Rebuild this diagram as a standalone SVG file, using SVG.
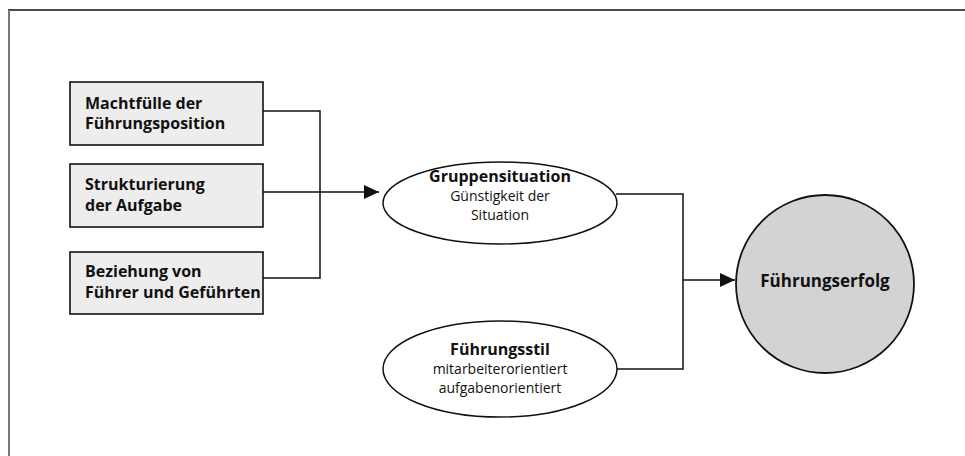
<svg xmlns="http://www.w3.org/2000/svg" width="965" height="456" viewBox="0 0 965 456">
<defs>
<style>
.frame-top{stroke:#111;stroke-width:1.3;fill:none}
.frame-left{stroke:#777;stroke-width:2;fill:none}
.box{fill:#ededed;stroke:#111;stroke-width:1.6}
.ell{fill:#fff;stroke:#111;stroke-width:1.5}
.circ{fill:#d3d3d3;stroke:#111;stroke-width:1.8}
.conn{stroke:#111;stroke-width:1.5;fill:none}
text{font-family:"Open Sans","Liberation Sans",sans-serif;fill:#111}
.b{font-weight:bold;font-size:16px}
.n{font-size:14px}
.big{font-weight:bold;font-size:17px}
</style>
<marker id="arr" markerWidth="16" markerHeight="14" refX="15" refY="7" orient="auto" markerUnits="userSpaceOnUse">
<path d="M0,0 L15,7 L0,14 Z" fill="#111"/>
</marker>
</defs>
<rect width="965" height="456" fill="#fff"/>
<line class="frame-top" x1="8" y1="10" x2="965" y2="10"/>
<line class="frame-left" x1="9" y1="10" x2="9" y2="456"/>

<g id="connectors">
<polyline class="conn" points="263,111 320,111 320,278 263,278"/>
<line class="conn" x1="263" y1="192" x2="379" y2="192" marker-end="url(#arr)"/>
<polyline class="conn" points="616,194 683,194 683,369 617,369"/>
<line class="conn" x1="683" y1="280" x2="735" y2="280" marker-end="url(#arr)"/>
</g>

<g id="box1">
<rect class="box" x="70" y="82" width="193" height="63"/>
<text class="b" x="85" y="109">Machtfülle der</text>
<text class="b" x="85" y="129">Führungsposition</text>
</g>
<g id="box2">
<rect class="box" x="70" y="164" width="193" height="63"/>
<text class="b" x="85" y="190">Strukturierung</text>
<text class="b" x="85" y="211">der Aufgabe</text>
</g>
<g id="box3">
<rect class="box" x="70" y="252" width="193" height="62"/>
<text class="b" x="85" y="277">Beziehung von</text>
<text class="b" x="85" y="298">Führer und Geführten</text>
</g>

<g id="gruppensituation">
<ellipse class="ell" cx="500" cy="203" rx="117" ry="41"/>
<text class="b" x="500" y="182" text-anchor="middle">Gruppensituation</text>
<text class="n" x="500" y="201" text-anchor="middle">Günstigkeit der</text>
<text class="n" x="500" y="220" text-anchor="middle">Situation</text>
</g>
<g id="fuehrungsstil">
<ellipse class="ell" cx="500" cy="369" rx="117" ry="48"/>
<text class="b" x="500" y="355" text-anchor="middle">Führungsstil</text>
<text class="n" x="500" y="374" text-anchor="middle">mitarbeiterorientiert</text>
<text class="n" x="500" y="393" text-anchor="middle">aufgabenorientiert</text>
</g>
<g id="fuehrungserfolg">
<circle class="circ" cx="825" cy="284" r="89"/>
<text class="big" x="825" y="287" text-anchor="middle">Führungserfolg</text>
</g>
</svg>
